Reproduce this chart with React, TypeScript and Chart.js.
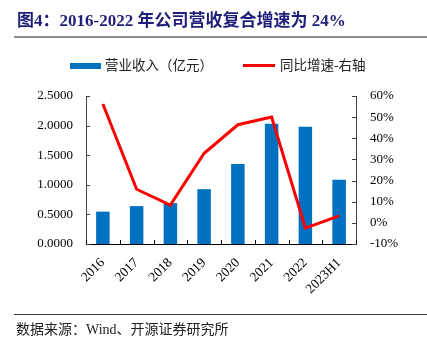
import React, { useEffect, useRef } from "react";
import { Chart, registerables } from "chart.js";

Chart.register(...registerables);

const categories = ["2016", "2017", "2018", "2019", "2020", "2021", "2022", "2023H1"];
const revenue = [0.547, 0.64, 0.69, 0.927, 1.35, 2.03, 1.98, 1.085];
const growth = [56.2, 15.9, 8.4, 32.9, 46.4, 50.0, -2.5, 3.3];
const leftTicks = [0, 0.5, 1.0, 1.5, 2.0, 2.5];
const rightTicks = [-10, 0, 10, 20, 30, 40, 50, 60];

const serif = '"Liberation Serif", "Times New Roman", serif';
const cjk = '"Liberation Serif", "Noto Sans CJK SC", serif';

const innerTicks = {
  id: "innerTicks",
  afterDraw(chart: any) {
    const ctx = chart.ctx;
    const area = chart.chartArea;
    const y = chart.scales.y;
    const y1 = chart.scales.y1;
    const x = chart.scales.x;
    ctx.save();
    ctx.lineWidth = 1;
    ctx.strokeStyle = "#404040";
    y.ticks.forEach((t: any) => {
      const p = Math.round(y.getPixelForValue(t.value)) + 0.5;
      ctx.beginPath();
      ctx.moveTo(area.left, p);
      ctx.lineTo(area.left + 4, p);
      ctx.stroke();
    });
    y1.ticks.forEach((t: any) => {
      const p = Math.round(y1.getPixelForValue(t.value)) + 0.5;
      ctx.beginPath();
      ctx.moveTo(area.right, p);
      ctx.lineTo(area.right - 4, p);
      ctx.stroke();
    });
    ctx.strokeStyle = "#000";
    const n = categories.length;
    for (let i = 0; i <= n; i++) {
      const px = Math.round(x.getPixelForValue(i - 0.5)) + 0.5;
      ctx.beginPath();
      ctx.moveTo(px, area.bottom);
      ctx.lineTo(px, area.bottom - 4);
      ctx.stroke();
    }
    ctx.restore();
  },
};

export default function App() {
  const ref = useRef<HTMLCanvasElement | null>(null);

  useEffect(() => {
    if (!ref.current) return;
    const chart = new Chart(ref.current, {
      type: "bar",
      data: {
        labels: categories,
        datasets: [
          {
            type: "line",
            label: "同比增速-右轴",
            data: growth,
            borderColor: "#FF0000",
            backgroundColor: "#FF0000",
            borderWidth: 3,
            pointRadius: 0,
            tension: 0,
            yAxisID: "y1",
            order: 0,
          } as any,
          {
            type: "bar",
            label: "营业收入（亿元）",
            data: revenue,
            backgroundColor: "#0070C0",
            borderWidth: 0,
            barPercentage: 0.4,
            categoryPercentage: 1,
            yAxisID: "y",
            order: 1,
          },
        ],
      },
      options: {
        responsive: false,
        animation: false,
        devicePixelRatio: 1,
        layout: { padding: { top: 96, left: 0, right: 0, bottom: 0 } },
        plugins: { legend: { display: false }, tooltip: { enabled: false } },
        scales: {
          x: {
            offset: true,
            grid: { display: false, drawTicks: false },
            border: { display: true, color: "#000", width: 1 },
            ticks: {
              maxRotation: 45,
              minRotation: 45,
              padding: 11,
              color: "#000",
              font: { family: serif, size: 13.5 },
            },
            afterFit(s: any) {
              s.height = 100;
            },
          },
          y: {
            position: "left",
            min: 0,
            max: 2.5,
            afterBuildTicks(s: any) {
              s.ticks = leftTicks.map((v) => ({ value: v }));
            },
            grid: { display: false, drawTicks: false },
            border: { display: true, color: "#404040", width: 1 },
            ticks: {
              padding: 13,
              color: "#000",
              font: { family: serif, size: 13 },
              callback: (v: any) => Number(v).toFixed(4),
            },
            afterFit(s: any) {
              s.width = 86;
            },
          },
          y1: {
            position: "right",
            min: -10,
            max: 60,
            afterBuildTicks(s: any) {
              s.ticks = rightTicks.map((v) => ({ value: v }));
            },
            grid: { display: false, drawTicks: false },
            border: { display: true, color: "#404040", width: 1 },
            ticks: {
              padding: 14,
              color: "#000",
              font: { family: serif, size: 13 },
              callback: (v: any) => `${v}%`,
            },
            afterFit(s: any) {
              s.width = 71;
            },
          },
        },
      },
      plugins: [innerTicks],
    });
    return () => chart.destroy();
  }, []);

  return (
    <div style={{ position: "fixed", left: 0, top: 0, width: 427, height: 344, background: "#fff", overflow: "hidden" }}>
      <canvas ref={ref} width={427} height={344} style={{ position: "absolute", left: 0, top: 0 }} />
      <div
        style={{
          position: "absolute",
          left: 17,
          top: 12,
          fontFamily: cjk,
          fontWeight: "bold",
          fontSize: 17,
          lineHeight: "18px",
          color: "#1f1f7a",
          whiteSpace: "nowrap",
        }}
      >
        图4：2016-2022 年公司营收复合增速为 24%
      </div>
      <div style={{ position: "absolute", left: 14, right: 0, top: 36, height: 2, background: "#8c8c8c" }} />
      <div style={{ position: "absolute", left: 70, top: 63, width: 31, height: 6, background: "#0070C0" }} />
      <div
        style={{
          position: "absolute",
          left: 105,
          top: 57,
          fontFamily: cjk,
          fontSize: 13.5,
          lineHeight: "18px",
          color: "#222",
          whiteSpace: "nowrap",
        }}
      >
        营业收入（亿元）
      </div>
      <div style={{ position: "absolute", left: 243, top: 64, width: 32, height: 3, background: "#FF0000" }} />
      <div
        style={{
          position: "absolute",
          left: 280,
          top: 57,
          fontFamily: cjk,
          fontSize: 13.5,
          lineHeight: "18px",
          color: "#222",
          whiteSpace: "nowrap",
        }}
      >
        同比增速-右轴
      </div>
      <div style={{ position: "absolute", left: 14, right: 0, top: 314, height: 1, background: "#404040" }} />
      <div
        style={{
          position: "absolute",
          left: 16,
          top: 321,
          fontFamily: cjk,
          fontSize: 14,
          lineHeight: "18px",
          color: "#222",
          whiteSpace: "nowrap",
        }}
      >
        数据来源：Wind、开源证券研究所
      </div>
    </div>
  );
}
